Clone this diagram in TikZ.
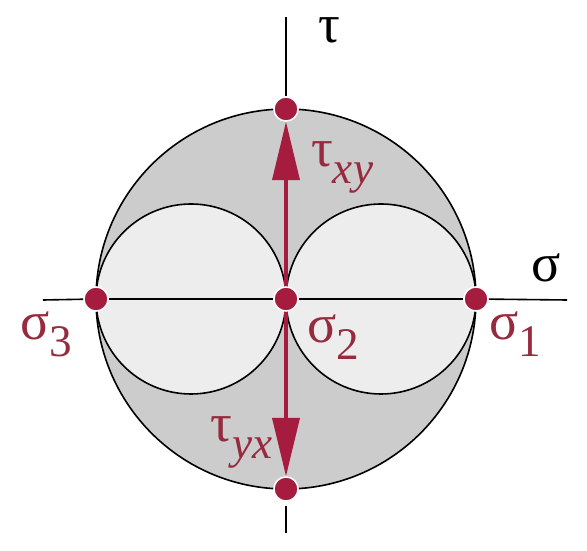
\documentclass[tikz,border=0pt]{standalone}
\usepackage{fontspec}
\setmainfont{Liberation Serif}
\usepackage{xcolor}
\usepackage{tikz}
\usetikzlibrary{positioning,arrows.meta}

\definecolor{mohrred}{RGB}{165,28,62}
\definecolor{labred}{RGB}{150,42,62}
\newcommand{\lsub}[1]{\raisebox{-0.3em}{\fontsize{45}{48}\selectfont #1}}

\begin{document}
\begin{tikzpicture}[
    x=0.035cm, y=0.035cm,
    >=Latex,
    bigdisc/.style={
        fill=black!20, draw=black, line width=1.6pt
    },
    smalldisc/.style={
        fill=black!7, draw=black, line width=1.6pt
    },
    axis/.style={
        draw=black, line width=1.6pt
    },
    stress/.style={
        draw=mohrred, line width=3.2pt,
        -{Triangle[length=58pt, width=27pt]}
    },
    pt/.style={
        circle, fill=mohrred, draw=white, line width=1.5pt,
        minimum size=24pt, inner sep=0pt
    },
    alabel/.style={
        font=\fontsize{54}{58}\selectfont,
        text=black, inner sep=0pt
    },
    plabel/.style={
        font=\fontsize{54}{58}\selectfont,
        text=labred, inner sep=0pt
    }
]

\useasboundingbox (0,0) rectangle (587,551);

% circles
\draw[bigdisc] (286,252) circle (190);
\draw[smalldisc] (191,252) circle (95);
\draw[smalldisc] (381,252) circle (95);

% axis ends
\coordinate (sleft) at (43,251);
\coordinate (sright) at (567,251);
\coordinate (ttop) at (286,534);
\coordinate (tbot) at (286,18);

% points
\node[pt] (s3) at (96,252) {};
\node[pt] (s1) at (476,252) {};
\node[pt] (s2) at (286,252) {};
\node[pt] (txy) at (286,442) {};
\node[pt] (tyx) at (286,62) {};

\draw[axis] (sleft) -- (s3);
\draw[axis] (s3) -- (s2);
\draw[axis] (s2) -- (s1);
\draw[axis] (s1) -- (sright);
\draw[axis] (ttop) -- (txy);
\draw[axis, shorten <=4pt] (tyx) -- (tbot);

\draw[stress] (s2) -- (txy);
\draw[stress] (s2) -- (tyx);

% labels
\node[alabel] (tau) at (329,521) {τ};
\node[alabel] (sig) at (546,283) {σ};
\node[plabel, anchor=base west] (lxy) at (311,384) {τ\lsub{\itshape xy}};
\node[plabel, anchor=base east] (lyx) at (273,109) {τ\lsub{\itshape yx}};
\node[plabel, anchor=base west] (l3) at (20,211) {σ\lsub{3}};
\node[plabel, anchor=base west] (l2) at (307,208) {σ\lsub{2}};
\node[plabel, anchor=base west] (l1) at (489,211) {σ\lsub{1}};

\end{tikzpicture}
\end{document}
